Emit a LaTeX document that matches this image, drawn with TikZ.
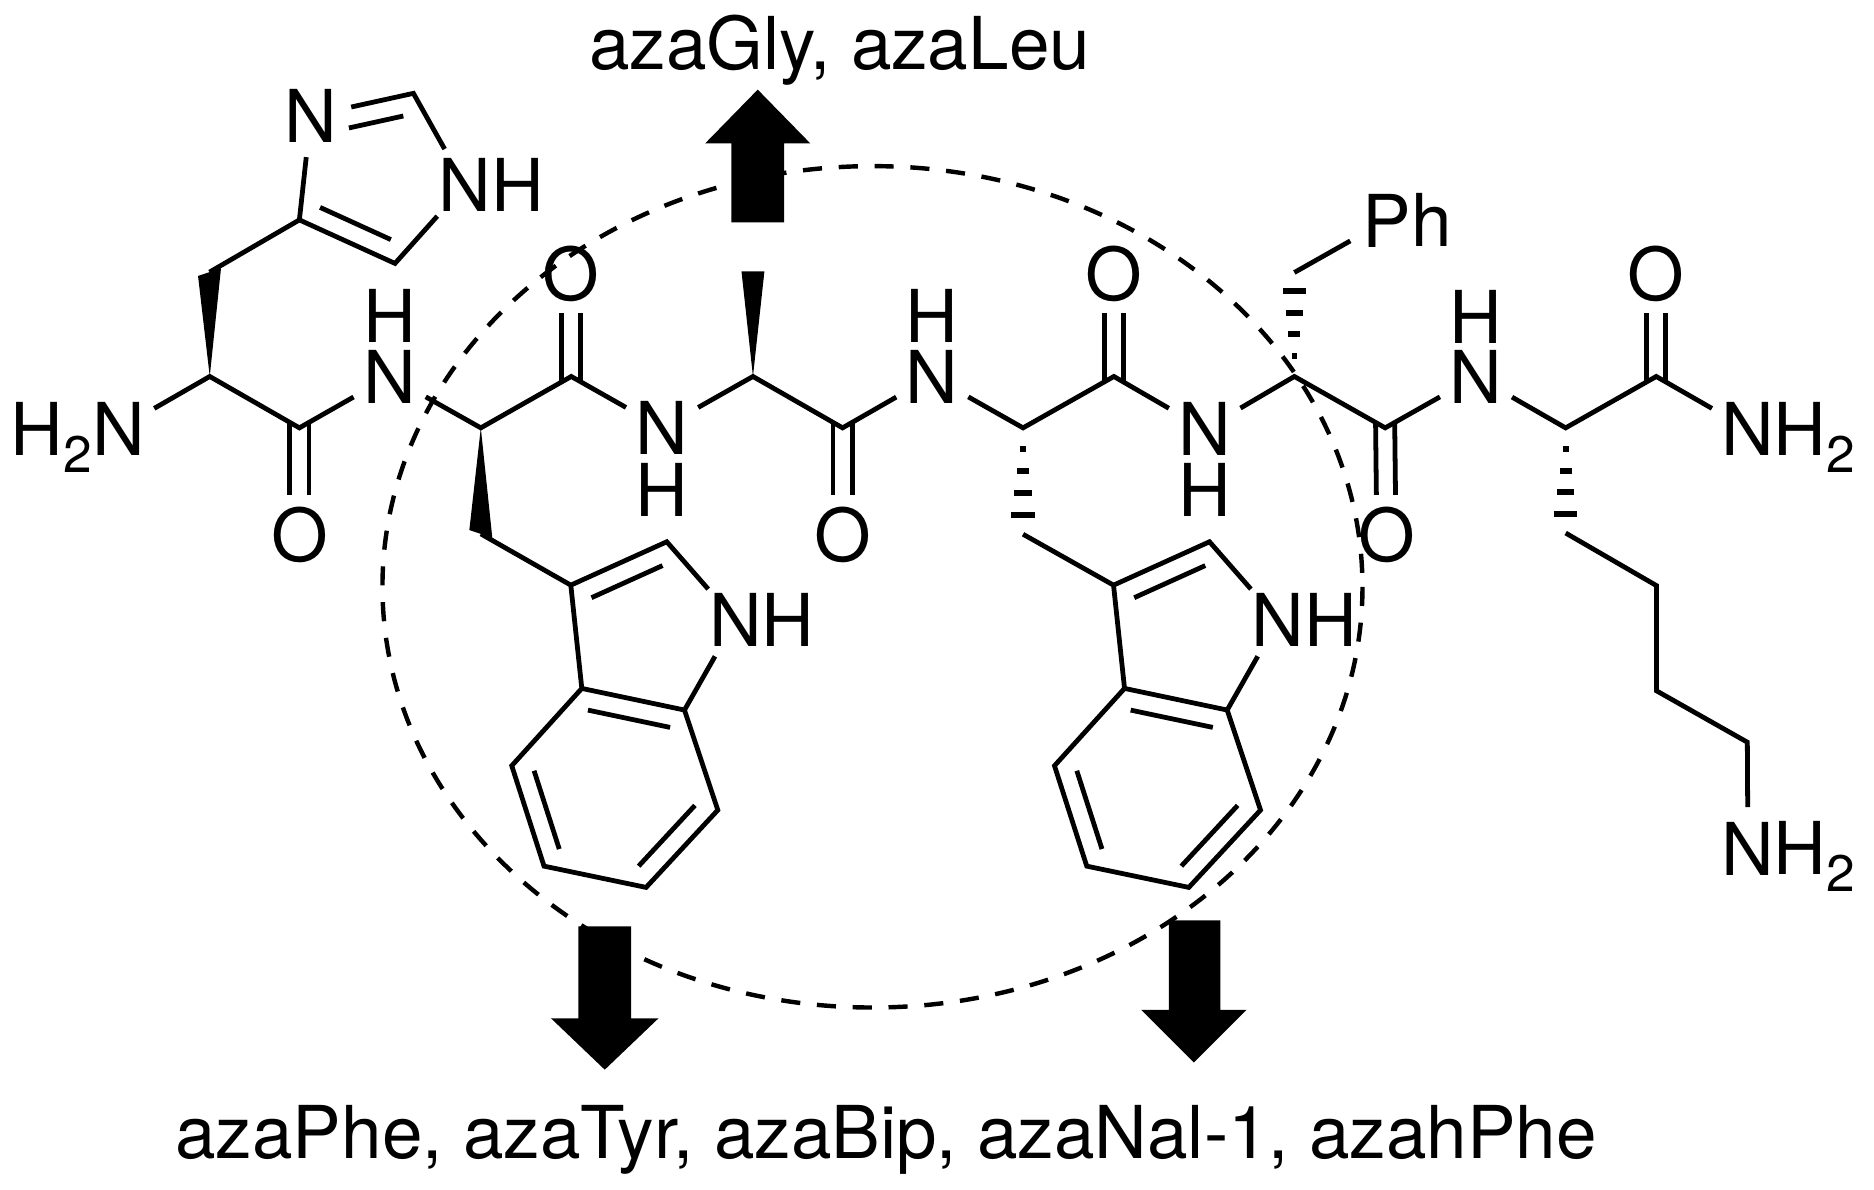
\documentclass[tikz,border=0pt]{standalone}
\usepackage{fontspec}
\setmainfont{TeX Gyre Heros}
\usetikzlibrary{calc}
\tikzset{
  atom/.style={circle,inner sep=0pt,minimum size=69pt,text depth=0pt,font=\fontsize{61}{64}\selectfont},
  txt/.style={inner sep=0pt,font=\fontsize{61}{64}\selectfont},
  bond/.style={line width=4pt,line cap=butt,line join=miter},
  hashbar/.style={line width=5pt},
  wedgefill/.style={fill=black,draw=none},
  fatarrow/.style={fill=black,draw=none},
  ring/.style={line width=3.7pt,dash pattern=on 16pt off 14pt},
  caption/.style={inner sep=0pt,font=\fontsize{61}{64}\selectfont}
}
\newcommand{\subtwo}{\raisebox{-14pt}{\fontsize{43}{45}\selectfont 2}}
% inner line of a double bond: a, b, from, to (fractions), offset
\newcommand{\innerbond}[5]{%
  \draw[bond] ($(#1)!#3!(#2)!#5pt!90:(#2)$) -- ($(#1)!#4!(#2)!#5pt!90:(#2)$);}
\newcommand{\hashbond}[2]{%
  \foreach \t in {0.2,0.41,0.61,0.82}{
    \path ($(#1)!\t!(#2)$) coordinate (hb);
    \pgfmathsetmacro{\hw}{\t*12}
    \draw[hashbar] ([xshift=-\hw pt]hb) -- ([xshift=\hw pt]hb);
  }}
\newcommand{\wedgebond}[3]{%
  \fill[wedgefill] (#1) -- ($(#2)+(-9.6,#3)$) -- ($(#2)+(9.6,-#3)$) -- cycle;}
\begin{document}
\begin{tikzpicture}[x=1pt,y=-1pt]
\useasboundingbox (0,0) rectangle (1568,995);
% dashed ring
\draw[ring] (730,491) ellipse [x radius=410,y radius=352];
% His
\node[atom] (hN3) at (260,97) {N};
\coordinate (hC2) at (345.9,78.1);
\node[atom] (hN1) at (389,155) {N};
\node[txt] (hH1) at (433.6,155) {H};
\coordinate (hC5) at (330.5,220.4);
\coordinate (hC4) at (250.5,184);
\coordinate (hCB) at (175.3,227.7);
\coordinate (hCA) at (175.5,315);
\node[atom] (hN) at (99,359) {N};
\node[txt,anchor=base east] (hH) at (77,381) {H\subtwo};
\coordinate (hC) at (250.5,358);
\node[atom] (hO) at (250.5,447) {O};
\node[atom] (n1) at (326,315) {N};
\node[txt] (h1) at (326,264) {H};
% Trp1
\coordinate (aA1) at (402.3,358);
\coordinate (c1) at (478,315);
\node[atom] (o1) at (478,229) {O};
\node[atom] (n2) at (554,358) {N};
\node[txt] (h2) at (554,410) {H};
\coordinate (b1) at (402.3,446.7);
\coordinate (g1) at (477.6,489.6);
\coordinate (d1) at (557.9,453.3);
\node[atom] (e1) at (615.4,519) {N};
\node[txt] (eh1) at (659.4,519) {H};
\coordinate (f1) at (572.7,594.1);
\coordinate (j1) at (486.8,576);
\coordinate (k1) at (428.2,640.7);
\coordinate (l1) at (455.2,724.7);
\coordinate (m1) at (540.6,742.5);
\coordinate (p1) at (600.6,677.8);
% Ala
\coordinate (aA2) at (630,315);
\coordinate (me) at (630,227);
\coordinate (c2) at (705,358);
\node[atom] (o2) at (705,447) {O};
\node[atom] (n3) at (780,315) {N};
\node[txt] (h3) at (780,264) {H};
% Trp2
\coordinate (aA3) at (856,358);
\coordinate (c3) at (932,315);
\node[atom] (o3) at (932,229) {O};
\node[atom] (n4) at (1008,359) {N};
\node[txt] (h4) at (1008,410) {H};
\coordinate (b3) at (856,447);
\coordinate (g3) at (931.7,489.6);
\coordinate (d3) at (1012,453.3);
\node[atom] (e3) at (1069.5,519) {N};
\node[txt] (eh3) at (1113.5,519) {H};
\coordinate (f3) at (1026.8,594.1);
\coordinate (j3) at (940.9,576);
\coordinate (k3) at (882.3,640.7);
\coordinate (l3) at (909.3,724.7);
\coordinate (m3) at (994.7,742.5);
\coordinate (p3) at (1054.7,677.8);
% Phe
\coordinate (aA4) at (1083,315);
\coordinate (b4) at (1083,228);
\node[atom] (ph) at (1160,184.5) {P};
\node[txt,anchor=base west] (phh) at (1180.5,206.5) {h};
\coordinate (c4) at (1159,358);
\node[atom] (o4) at (1160,447) {O};
\node[atom] (n5) at (1235,315) {N};
\node[txt] (h5) at (1235,265) {H};
% Lys
\coordinate (aA5) at (1310,358);
\coordinate (c5) at (1385.8,315);
\node[atom] (o5) at (1385.8,229) {O};
\node[atom] (n6) at (1462.5,359) {N};
\node[txt,anchor=base west] (h6) at (1484,381) {H\subtwo};
\coordinate (b5) at (1310,446);
\coordinate (g5) at (1386,490);
\coordinate (d5) at (1386,578);
\coordinate (e5) at (1462,621);
\node[atom] (n7) at (1462.5,710) {N};
\node[txt,anchor=base west] (h7) at (1484,732) {H\subtwo};
% bonds
\draw[bond] (hCB) -- (hC4) -- (hC5) -- (hN1) (hN3) -- (hC2) -- (hN1) (hN3) -- (hC4);
\innerbond{hC4}{hC5}{.13}{.87}{16.7}
\innerbond{hC2}{hN3}{.14}{.67}{16.7}
\draw[bond] (hN) -- (hCA) -- (hC) -- (n1) -- (aA1) -- (c1) -- (n2) -- (aA2) -- (c2) -- (n3) -- (aA3) -- (c3) -- (n4) -- (aA4) -- (c4) -- (n5) -- (aA5) -- (c5) -- (n6);
\draw[bond] (b1) -- (g1) -- (d1) -- (e1) -- (f1) -- (j1) -- (g1) (j1) -- (k1) -- (l1) -- (m1) -- (p1) -- (f1);
\draw[bond] (b3) -- (g3) -- (d3) -- (e3) -- (f3) -- (j3) -- (g3) (j3) -- (k3) -- (l3) -- (m3) -- (p3) -- (f3);
\innerbond{g1}{d1}{.13}{.87}{-16.7}
\innerbond{j1}{f1}{.10}{.90}{-16.7}
\innerbond{k1}{l1}{.11}{.89}{16.5}
\innerbond{p1}{m1}{.115}{.90}{-16.7}
\innerbond{g3}{d3}{.13}{.87}{-16.7}
\innerbond{j3}{f3}{.10}{.90}{-16.7}
\innerbond{k3}{l3}{.11}{.89}{16.5}
\innerbond{p3}{m3}{.115}{.90}{-16.7}
\draw[bond] (b4) -- (ph);
\draw[bond] (b5) -- (g5) -- (d5) -- (e5) -- (n7);
% carbonyls
\foreach \a/\b in {hC/hO,c1/o1,c2/o2,c3/o3,c4/o4,c5/o5}{
  \path ($(\a)!-4pt!(\b)$) coordinate (cp) ($(\b)!33pt!(\a)$) coordinate (cq);
  \draw[bond] ([xshift=-8pt]cp) -- ([xshift=-8pt]cq);
  \draw[bond] ([xshift=8pt]cp) -- ([xshift=8pt]cq);
}
% stereo
\wedgebond{hCA}{hCB}{3.2}
\wedgebond{aA1}{b1}{-3.2}
\wedgebond{aA2}{me}{0}
\hashbond{aA3}{b3}
\hashbond{aA4}{b4}
\hashbond{aA5}{b5}
% arrows
\path[fatarrow] (612,186) -- (612,120) -- (590,120) -- (634,75) -- (678,120) -- (656,120) -- (656,186) -- cycle;
\path[fatarrow] (484,775) -- (484,852) -- (461,852) -- (506,895) -- (551,852) -- (528,852) -- (528,775) -- cycle;
\path[fatarrow] (978,770) -- (978,845) -- (955,845) -- (999,889) -- (1043,845) -- (1021,845) -- (1021,770) -- cycle;
% captions
\node[caption] (cap1) at (702.5,42) {azaGly, azaLeu};
\node[caption] (cap2) at (741.5,954) {azaPhe, azaTyr, azaBip, azaNal-1, azahPhe};
\end{tikzpicture}
\end{document}
